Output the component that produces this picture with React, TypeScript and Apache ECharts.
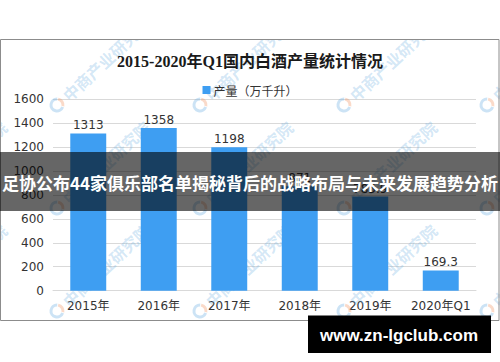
import React, { useEffect, useRef } from "react";
import * as echarts from "echarts";

const categories = ["2015年", "2016年", "2017年", "2018年", "2019年", "2020年Q1"];
const production = [1313, 1358, 1198, 871, 785.9, 169.3];
const seriesName = "产量（万千升）";
const chartTitle = "2015-2020年Q1国内白酒产量统计情况";
const bannerText = "足协公布44家俱乐部名单揭秘背后的战略布局与未来发展趋势分析";
const siteText = "www.zn-lgclub.com";
const watermarkText = "中商产业研究院";

const wmCols = [-86, 57, 200, 344, 487];
const wmRows = [105, 208, 311];

export default function App() {
  const ref = useRef<HTMLDivElement>(null);
  useEffect(() => {
    if (!ref.current) return;
    const chart = echarts.init(ref.current, null, { renderer: "svg" });
    const rot = (43 * Math.PI) / 180;
    const watermarks: any[] = [];
    wmRows.forEach((y) =>
      wmCols.forEach((x) => {
        watermarks.push({
          type: "group",
          x,
          y,
          rotation: rot,
          z: 1,
          children: [
            {
              type: "arc",
              shape: { cx: 0, cy: 0, r: 6, startAngle: Math.PI * 0.35, endAngle: Math.PI * 1.75 },
              style: { stroke: "rgba(110,175,225,0.35)", lineWidth: 3, fill: null },
              z: 1,
            },
            {
              type: "arc",
              shape: { cx: 0, cy: 0, r: 6, startAngle: Math.PI * 1.8, endAngle: Math.PI * 2.3 },
              style: { stroke: "rgba(240,150,100,0.35)", lineWidth: 3, fill: null },
              z: 1,
            },
            {
              type: "text",
              x: 11,
              y: 0,
              style: {
                text: watermarkText,
                fill: "rgba(110,175,225,0.3)",
                font: "bold 16px 'Noto Sans CJK SC'",
                verticalAlign: "middle",
              },
              z: 1,
            },
          ],
        });
      })
    );
    chart.setOption({
      animation: false,
      backgroundColor: "#ffffff",
      title: {
        text: chartTitle,
        left: "center",
        top: 48,
        textStyle: {
          fontSize: 16,
          fontWeight: "bold",
          color: "#1a1a1a",
          fontFamily: "'Liberation Serif', 'Noto Sans CJK SC'",
        },
      },
      legend: {
        top: 79,
        left: "center",
        itemWidth: 8,
        itemHeight: 8,
        icon: "rect",
        itemGap: 10,
        textStyle: { fontSize: 12, color: "#333", fontFamily: "'Noto Sans CJK SC'", padding: [0, 0, 0, -2] },
        data: [seriesName],
      },
      grid: { left: 53, right: 24, top: 99, bottom: 71.3, containLabel: false },
      xAxis: {
        type: "category",
        data: categories,
        axisTick: { show: false },
        axisLine: { show: true, lineStyle: { color: "#d9d9d9" } },
        axisLabel: {
          interval: 0,
          margin: 9,
          fontSize: 12,
          color: "#333",
          fontFamily: "'DejaVu Sans', 'Noto Sans CJK SC'",
        },
      },
      yAxis: {
        type: "value",
        min: 0,
        max: 1600,
        interval: 200,
        axisLine: { show: false },
        axisTick: { show: false },
        splitLine: { lineStyle: { color: "#d9d9d9" } },
        axisLabel: {
          margin: 9,
          fontSize: 12,
          color: "#333",
          fontFamily: "'DejaVu Sans'",
          formatter: (v: number) => String(v),
        },
      },
      series: [
        {
          name: seriesName,
          type: "bar",
          data: production,
          barWidth: "51%",
          itemStyle: { color: "#3e9ef2" },
          z: 2,
          label: {
            show: true,
            position: "top",
            distance: 2,
            fontSize: 12,
            color: "#333",
            fontFamily: "'DejaVu Sans'",
          },
        },
      ],
      graphic: [
        ...watermarks,
        { type: "rect", shape: { x: 0, y: 0, width: 500, height: 39.5 }, style: { fill: "#fff" }, z: 3 },
        { type: "rect", shape: { x: 0, y: 320.5, width: 500, height: 42 }, style: { fill: "#fff" }, z: 3 },
        {
          type: "rect",
          shape: { x: 0.5, y: 39.5, width: 498.5, height: 281 },
          style: { fill: null, stroke: "#8c8c8c", lineWidth: 1 },
          z: 4,
        },
        {
          type: "rect",
          shape: { x: 0, y: 152, width: 500, height: 59 },
          style: { fill: "rgba(0,0,0,0.6)" },
          z: 20,
        },
        {
          type: "text",
          x: 250,
          y: 182,
          style: {
            text: bannerText,
            fill: "#ffffff",
            font: "bold 17px 'Noto Sans CJK SC'",
            align: "center",
            verticalAlign: "middle",
          },
          z: 21,
        },
        {
          type: "rect",
          shape: { x: 308, y: 315.5, width: 183, height: 37.5 },
          style: { fill: "#000" },
          z: 22,
        },
        {
          type: "text",
          x: 399,
          y: 335,
          style: {
            text: siteText,
            fill: "#ffffff",
            font: "bold 17px 'Liberation Sans'",
            align: "center",
            verticalAlign: "middle",
          },
          z: 23,
        },
      ],
    });
    return () => chart.dispose();
  }, []);
  return (
    <div
      ref={ref}
      style={{ position: "fixed", left: 0, top: 0, width: 500, height: 362 }}
    />
  );
}
